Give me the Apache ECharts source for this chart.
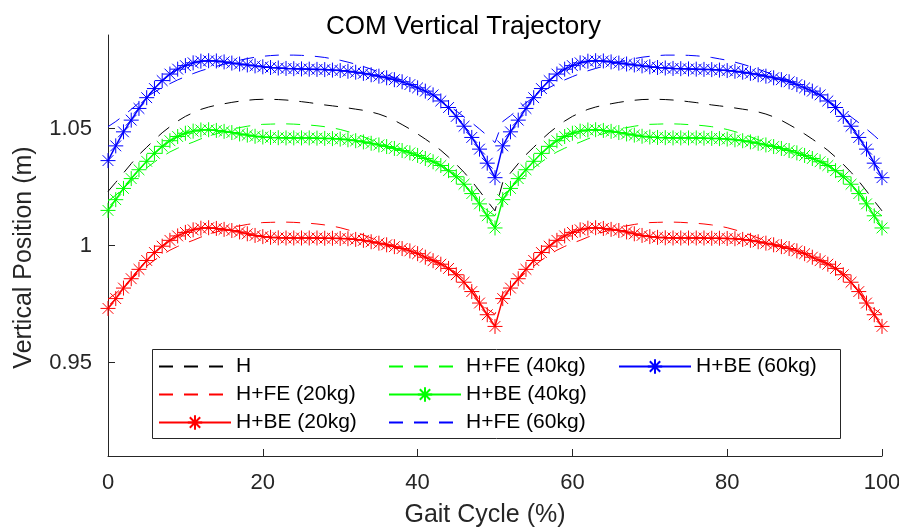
<!DOCTYPE html>
<html>
<head>
<meta charset="utf-8">
<script src="https://cdn.jsdelivr.net/npm/echarts@6/dist/echarts.min.js"></script>
<style>html,body{margin:0;padding:0;background:#fff;}#c{width:899px;height:529px;}</style>
</head>
<body>
<div id="c"></div>
<script>
// ---- data ----
const gait = [0,1,2,3,4,5,6,7,8,9,10,11,12,13,14,15,16,17,18,19,20,21,22,23,24,25,26,27,28,29,30,31,32,33,34,35,36,37,38,39,40,41,42,43,44,45,46,47,48,49,50,51,52,53,54,55,56,57,58,59,60,61,62,63,64,65,66,67,68,69,70,71,72,73,74,75,76,77,78,79,80,81,82,83,84,85,86,87,88,89,90,91,92,93,94,95,96,97,98,99,100];
const xTicks = [0,20,40,60,80,100];
const yTicks = [0.95,1,1.05];

const H = [
1.0231,1.0270,1.0310,1.0350,1.0388,1.0420,1.0452,1.0482,1.0508,1.0532,
1.0552,1.0568,1.0582,1.0592,1.0600,1.0606,1.0612,1.0617,1.0621,1.0624,
1.0625,1.0625,1.0624,1.0622,1.0619,1.0615,1.0611,1.0606,1.0601,1.0597,
1.0593,1.0588,1.0583,1.0578,1.0571,1.0562,1.0550,1.0535,1.0517,1.0498,
1.0477,1.0455,1.0432,1.0407,1.0378,1.0347,1.0313,1.0275,1.0233,1.0190,
1.0148,1.0270,1.0310,1.0350,1.0388,1.0420,1.0452,1.0482,1.0508,1.0532,
1.0552,1.0568,1.0582,1.0592,1.0600,1.0606,1.0612,1.0617,1.0621,1.0624,
1.0625,1.0625,1.0624,1.0622,1.0619,1.0615,1.0611,1.0606,1.0601,1.0597,
1.0593,1.0588,1.0583,1.0578,1.0571,1.0562,1.0550,1.0535,1.0517,1.0498,
1.0477,1.0455,1.0432,1.0407,1.0378,1.0347,1.0313,1.0275,1.0233,1.0190,
1.0148];

const FE20 = [
0.9770,0.9795,0.9825,0.9855,0.9885,0.9912,0.9937,0.9960,0.9980,0.9996,
1.0010,1.0022,1.0036,1.0047,1.0058,1.0068,1.0077,1.0084,1.0090,1.0095,
1.0098,1.0099,1.0100,1.0100,1.0099,1.0097,1.0095,1.0092,1.0088,1.0083,
1.0076,1.0067,1.0057,1.0045,1.0032,1.0018,1.0006,0.9996,0.9987,0.9977,
0.9966,0.9953,0.9939,0.9924,0.9906,0.9884,0.9855,0.9818,0.9765,0.9728,
0.9706,0.9795,0.9825,0.9855,0.9885,0.9912,0.9937,0.9960,0.9980,0.9996,
1.0010,1.0022,1.0036,1.0047,1.0058,1.0068,1.0077,1.0084,1.0090,1.0095,
1.0098,1.0099,1.0100,1.0100,1.0099,1.0097,1.0095,1.0092,1.0088,1.0083,
1.0076,1.0067,1.0057,1.0045,1.0032,1.0018,1.0006,0.9996,0.9987,0.9977,
0.9966,0.9953,0.9939,0.9924,0.9906,0.9884,0.9855,0.9818,0.9765,0.9728,
0.9706];

const BE20 = [
0.9731,0.9773,0.9818,0.9858,0.9898,0.9936,0.9970,0.9997,1.0022,1.0041,
1.0056,1.0067,1.0074,1.0076,1.0073,1.0069,1.0064,1.0058,1.0050,1.0043,
1.0038,1.0035,1.0033,1.0032,1.0032,1.0032,1.0032,1.0032,1.0031,1.0031,
1.0030,1.0029,1.0026,1.0022,1.0016,1.0010,1.0003,0.9995,0.9987,0.9977,
0.9965,0.9950,0.9935,0.9920,0.9902,0.9875,0.9843,0.9803,0.9754,0.9704,
0.9654,0.9773,0.9818,0.9858,0.9898,0.9936,0.9970,0.9997,1.0022,1.0041,
1.0056,1.0067,1.0074,1.0076,1.0073,1.0069,1.0064,1.0058,1.0050,1.0043,
1.0038,1.0035,1.0033,1.0032,1.0032,1.0032,1.0032,1.0032,1.0031,1.0031,
1.0030,1.0029,1.0026,1.0022,1.0016,1.0010,1.0003,0.9995,0.9987,0.9977,
0.9965,0.9950,0.9935,0.9920,0.9902,0.9875,0.9843,0.9803,0.9754,0.9704,
0.9654];

const FE40 = [
1.0190,1.0215,1.0245,1.0275,1.0305,1.0332,1.0357,1.0380,1.0400,1.0416,
1.0430,1.0442,1.0456,1.0467,1.0478,1.0488,1.0497,1.0504,1.0510,1.0515,
1.0518,1.0519,1.0520,1.0520,1.0519,1.0517,1.0515,1.0512,1.0508,1.0503,
1.0496,1.0487,1.0477,1.0465,1.0452,1.0439,1.0427,1.0417,1.0408,1.0398,
1.0387,1.0374,1.0360,1.0345,1.0327,1.0303,1.0275,1.0238,1.0186,1.0150,
1.0127,1.0215,1.0245,1.0275,1.0305,1.0332,1.0357,1.0380,1.0400,1.0416,
1.0430,1.0442,1.0456,1.0467,1.0478,1.0488,1.0497,1.0504,1.0510,1.0515,
1.0518,1.0519,1.0520,1.0520,1.0519,1.0517,1.0515,1.0512,1.0508,1.0503,
1.0496,1.0487,1.0477,1.0465,1.0452,1.0439,1.0427,1.0417,1.0408,1.0398,
1.0387,1.0374,1.0360,1.0345,1.0327,1.0303,1.0275,1.0238,1.0186,1.0150,
1.0127];

const BE40 = [
1.0150,1.0196,1.0244,1.0286,1.0324,1.0360,1.0394,1.0424,1.0448,1.0466,
1.0480,1.0489,1.0494,1.0495,1.0492,1.0488,1.0483,1.0477,1.0472,1.0467,
1.0464,1.0462,1.0461,1.0460,1.0460,1.0460,1.0460,1.0459,1.0458,1.0457,
1.0455,1.0452,1.0448,1.0443,1.0437,1.0430,1.0423,1.0415,1.0406,1.0396,
1.0385,1.0372,1.0358,1.0342,1.0320,1.0294,1.0262,1.0222,1.0178,1.0127,
1.0075,1.0196,1.0244,1.0286,1.0324,1.0360,1.0394,1.0424,1.0448,1.0466,
1.0480,1.0489,1.0494,1.0495,1.0492,1.0488,1.0483,1.0477,1.0472,1.0467,
1.0464,1.0462,1.0461,1.0460,1.0460,1.0460,1.0460,1.0459,1.0458,1.0457,
1.0455,1.0452,1.0448,1.0443,1.0437,1.0430,1.0423,1.0415,1.0406,1.0396,
1.0385,1.0372,1.0358,1.0342,1.0320,1.0294,1.0262,1.0222,1.0178,1.0127,
1.0075];

const FE60 = [
1.0508,1.0530,1.0555,1.0582,1.0610,1.0634,1.0656,1.0675,1.0692,1.0708,
1.0722,1.0735,1.0747,1.0757,1.0766,1.0775,1.0784,1.0792,1.0799,1.0805,
1.0809,1.0812,1.0814,1.0814,1.0814,1.0813,1.0811,1.0808,1.0804,1.0798,
1.0792,1.0784,1.0775,1.0765,1.0754,1.0742,1.0730,1.0718,1.0705,1.0690,
1.0675,1.0658,1.0640,1.0620,1.0598,1.0575,1.0550,1.0525,1.0498,1.0470,
1.0440,1.0530,1.0555,1.0582,1.0610,1.0634,1.0656,1.0675,1.0692,1.0708,
1.0722,1.0735,1.0747,1.0757,1.0766,1.0775,1.0784,1.0792,1.0799,1.0805,
1.0809,1.0812,1.0814,1.0814,1.0814,1.0813,1.0811,1.0808,1.0804,1.0798,
1.0792,1.0784,1.0775,1.0765,1.0754,1.0742,1.0730,1.0718,1.0705,1.0690,
1.0675,1.0658,1.0640,1.0620,1.0598,1.0575,1.0550,1.0525,1.0498,1.0470,
1.0440];

const BE60 = [
1.0363,1.0426,1.0486,1.0536,1.0586,1.0632,1.0671,1.0705,1.0733,1.0754,
1.0769,1.0781,1.0788,1.0790,1.0789,1.0785,1.0780,1.0776,1.0772,1.0768,
1.0764,1.0761,1.0759,1.0757,1.0756,1.0755,1.0754,1.0753,1.0752,1.0750,
1.0748,1.0745,1.0741,1.0736,1.0730,1.0724,1.0717,1.0709,1.0700,1.0688,
1.0674,1.0660,1.0644,1.0618,1.0590,1.0552,1.0510,1.0462,1.0412,1.0352,
1.0290,1.0426,1.0486,1.0536,1.0586,1.0632,1.0671,1.0705,1.0733,1.0754,
1.0769,1.0781,1.0788,1.0790,1.0789,1.0785,1.0780,1.0776,1.0772,1.0768,
1.0764,1.0761,1.0759,1.0757,1.0756,1.0755,1.0754,1.0753,1.0752,1.0750,
1.0748,1.0745,1.0741,1.0736,1.0730,1.0724,1.0717,1.0709,1.0700,1.0688,
1.0674,1.0660,1.0644,1.0618,1.0590,1.0552,1.0510,1.0462,1.0412,1.0352,
1.0290];

const names = ['H','H+FE (20kg)','H+BE (20kg)','H+FE (40kg)','H+BE (40kg)','H+FE (60kg)','H+BE (60kg)'];

// ---- chart ----
const FONT = "'Liberation Sans', Arial, sans-serif";
const AX = '#262626';
const STAR = 'path://M0,-1L0,1M-1,0L1,0M-0.72,-0.72L0.72,0.72M-0.72,0.72L0.72,-0.72';

function pairs(vals){ return gait.map((g,i)=>[g, vals[i]]); }
function dashed(name, vals, color){
  return {name, type:'line', data:pairs(vals), symbol:'none', showSymbol:false,
    lineStyle:{color, width:1, type:[14,11]}, itemStyle:{color}, z:2};
}
function starred(name, vals, color){
  return {name, type:'line', data:pairs(vals), symbol:STAR, symbolSize:15, showSymbol:true,
    lineStyle:{color, width:1.5, type:'solid'},
    itemStyle:{color, borderColor:color, borderWidth:1}, z:3};
}
function legendItem(name, isDashed){
  return isDashed ? {name, itemStyle:{opacity:0, borderWidth:0}} : {name};
}

const chart = echarts.init(document.getElementById('c'), null, {renderer:'canvas'});
const legendCommon = {
  orient:'vertical', top:356, itemWidth:72, itemHeight:18, itemGap:7, padding:0,
  textStyle:{fontSize:21, color:'#000', fontFamily:FONT}, selectedMode:false
};
chart.setOption({
  animation:false,
  backgroundColor:'#fff',
  textStyle:{fontFamily:FONT},
  title:{text:'COM Vertical Trajectory', left:321, top:9,
    textStyle:{fontSize:26, fontWeight:'normal', color:'#000', fontFamily:FONT}},
  grid:{left:108, right:17, top:35, bottom:73, containLabel:false, outerBoundsMode:'none'},
  xAxis:{type:'value', min:0, max:100, interval:20,
    axisLine:{lineStyle:{color:AX, width:1}},
    axisTick:{inside:true, length:7, lineStyle:{color:AX}, customValues:xTicks},
    axisLabel:{fontSize:22, color:AX, margin:16, fontFamily:FONT, customValues:xTicks},
    splitLine:{show:false},
    name:'Gait Cycle (%)', nameLocation:'middle', nameGap:47,
    nameTextStyle:{fontSize:25, color:AX, fontFamily:FONT, padding:[0,20,0,0]}},
  yAxis:{type:'value', min:0.91, max:1.09,
    axisLine:{show:true, lineStyle:{color:AX, width:1}},
    axisTick:{show:true, inside:true, length:7, lineStyle:{color:AX}, customValues:yTicks},
    axisLabel:{fontSize:22, color:AX, margin:16, fontFamily:FONT, customValues:yTicks,
      formatter:v => (Math.abs(v-1)<1e-9 ? '1' : v.toFixed(2))},
    splitLine:{show:false},
    name:'Vertical Position (m)', nameLocation:'middle', nameGap:71,
    nameTextStyle:{fontSize:25, color:AX, fontFamily:FONT, padding:[0,24,0,0]}},
  legend:[
    Object.assign({left:158, data:[legendItem(names[0],true),legendItem(names[1],true),legendItem(names[2],false)]}, legendCommon),
    Object.assign({left:388, data:[legendItem(names[3],true),legendItem(names[4],false),legendItem(names[5],true)]}, legendCommon),
    Object.assign({left:618, data:[legendItem(names[6],false)]}, legendCommon)
  ],
  graphic:[{type:'rect', shape:{x:152.5, y:349.5, width:688, height:89},
    style:{fill:'#fff', stroke:AX, lineWidth:1}, z:1}],
  series:[
    dashed(names[0], H, '#000000'),
    dashed(names[1], FE20, '#ff0000'),
    starred(names[2], BE20, '#ff0000'),
    dashed(names[3], FE40, '#00ff00'),
    starred(names[4], BE40, '#00ff00'),
    dashed(names[5], FE60, '#0000ff'),
    starred(names[6], BE60, '#0000ff')
  ]
});
</script>
</body>
</html>
